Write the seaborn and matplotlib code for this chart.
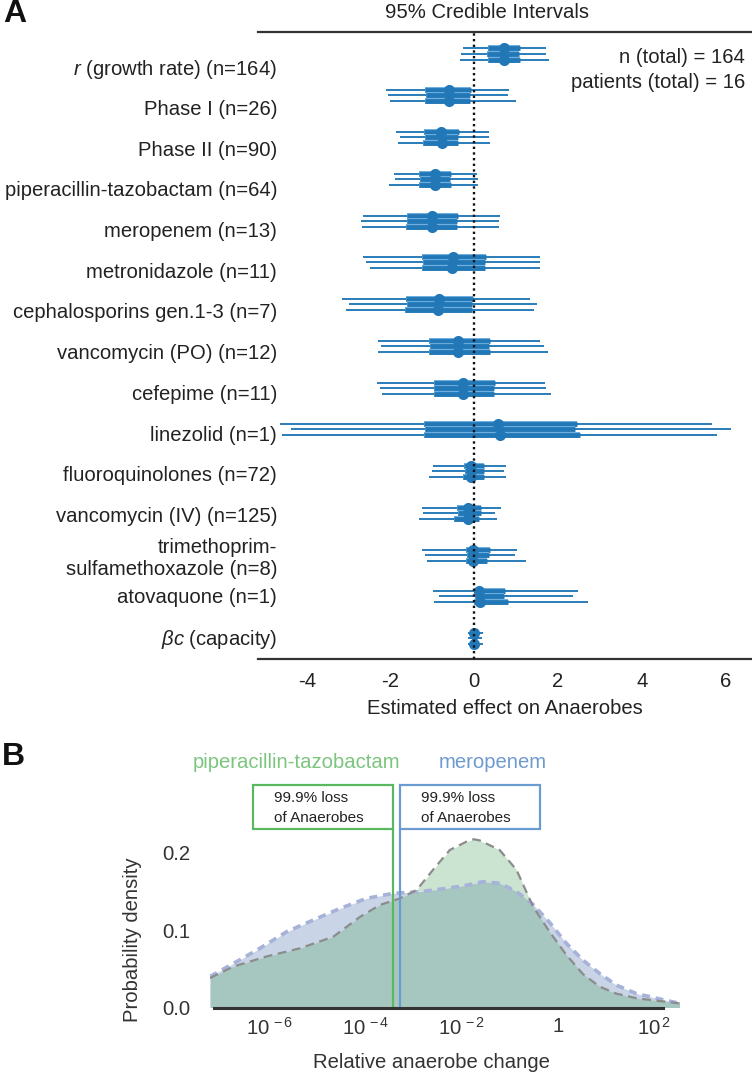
import numpy as np
import pandas as pd
import matplotlib
matplotlib.use('Agg')
import matplotlib.pyplot as plt
import matplotlib.patheffects as pe
from matplotlib.patches import Rectangle
import seaborn as sns

# ---------------- data: panel A ----------------
ylabels = [r'$\mathit{r}$ (growth rate) (n=164)', 'Phase I (n=26)', 'Phase II (n=90)',
           'piperacillin-tazobactam (n=64)', 'meropenem (n=13)', 'metronidazole (n=11)',
           'cephalosporins gen.1-3 (n=7)', 'vancomycin (PO) (n=12)', 'cefepime (n=11)',
           'linezolid (n=1)', 'fluoroquinolones (n=72)', 'vancomycin (IV) (n=125)',
           'trimethoprim-\nsulfamethoxazole (n=8)', 'atovaquone (n=1)', r'$\mathit{βc}$ (capacity)']
ci95_lo_top = [-0.28, -2.11, -1.87, -1.91, -2.65, -2.65, -3.15, -2.29, -2.32, -4.64, -0.98, -1.25, -1.25, -0.98, -0.16]
ci95_hi_top = [1.72, 0.84, 0.36, 0.06, 0.62, 1.56, 1.34, 1.58, 1.69, 5.68, 0.76, 0.63, 1.01, 2.48, 0.20]
ci95_lo_mid = [-0.32, -2.06, -1.77, -1.89, -2.70, -2.58, -2.98, -2.23, -2.24, -4.38, -1.01, -1.22, -1.18, -0.85, -0.14]
ci95_hi_mid = [1.72, 0.80, 0.34, 0.09, 0.58, 1.56, 1.50, 1.66, 1.72, 6.12, 0.71, 0.50, 0.98, 2.36, 0.18]
ci95_lo_bot = [-0.35, -2.00, -1.81, -2.03, -2.68, -2.48, -3.06, -2.29, -2.21, -4.60, -1.07, -1.32, -1.14, -0.95, -0.15]
ci95_hi_bot = [1.79, 1.00, 0.37, 0.10, 0.60, 1.56, 1.42, 1.76, 1.84, 5.80, 0.76, 0.54, 1.23, 2.71, 0.20]
ci50_lo_top = [0.32, -1.17, -1.20, -1.31, -1.61, -1.25, -1.63, -1.07, -0.97, -1.21, -0.24, -0.42, -0.19, 0.00, -0.06]
ci50_hi_top = [1.08, -0.08, -0.36, -0.56, -0.40, 0.28, -0.03, 0.37, 0.50, 2.44, 0.24, 0.17, 0.37, 0.74, 0.08]
ci50_lo_mid = [0.30, -1.15, -1.18, -1.29, -1.60, -1.22, -1.60, -1.05, -0.95, -1.18, -0.22, -0.40, -0.18, 0.02, -0.05]
ci50_hi_mid = [1.06, -0.10, -0.38, -0.58, -0.42, 0.25, -0.05, 0.35, 0.48, 2.40, 0.22, 0.15, 0.35, 0.70, 0.07]
ci50_lo_bot = [0.32, -1.17, -1.22, -1.31, -1.62, -1.25, -1.65, -1.08, -0.97, -1.21, -0.26, -0.48, -0.19, 0.00, -0.06]
ci50_hi_bot = [1.10, -0.10, -0.40, -0.56, -0.42, 0.26, -0.05, 0.37, 0.46, 2.52, 0.22, 0.12, 0.30, 0.80, 0.08]
median_top = [0.72, -0.61, -0.79, -0.93, -1.01, -0.50, -0.84, -0.38, -0.26, 0.57, -0.07, -0.15, -0.03, 0.11, 0.00]
median_bot = [0.72, -0.61, -0.77, -0.93, -1.01, -0.53, -0.87, -0.38, -0.26, 0.62, -0.07, -0.15, -0.03, 0.13, 0.00]
xticks_A = [-4, -2, 0, 2, 4, 6]

# ---------------- data: panel B ----------------
pip_log_x = [-7.25, -6.76, -6.07, -5.375, -4.68, -4.125, -3.71, -3.29, -2.94, -2.60, -2.25, -1.90, -1.75, -1.625,
             -1.21, -0.86, -0.51, -0.17, 0.18, 0.53, 0.875, 1.22, 1.64, 2.06, 2.54]
pip_density = [0.038, 0.053, 0.066, 0.0765, 0.0915, 0.117, 0.1325, 0.141, 0.152, 0.178, 0.2036, 0.2145, 0.2175, 0.2160,
               0.2036, 0.178, 0.130, 0.098, 0.068, 0.043, 0.027, 0.018, 0.012, 0.0088, 0.0054]
mero_log_x = [-7.25, -6.76, -6.21, -5.65, -5.10, -4.54, -3.99, -3.43, -2.875, -2.32, -1.90, -1.56, -1.21, -0.86,
              -0.51, -0.17, 0.18, 0.53, 0.875, 1.22, 1.64, 2.06, 2.54]
mero_density = [0.040, 0.057, 0.0765, 0.098, 0.113, 0.128, 0.141, 0.1476, 0.1497, 0.154, 0.158, 0.1627, 0.1606, 0.150,
                0.133, 0.110, 0.083, 0.061, 0.044, 0.029, 0.018, 0.012, 0.0054]
threshold_log = {'piperacillin-tazobactam': -3.43, 'meropenem': -3.28}
xticks_B_log = [-6, -4, -2, 0, 2]
xticklabels_B = [r'$10^{\,-6}$', r'$10^{\,-4}$', r'$10^{\,-2}$', '1', r'$10^{\,2}$']
yticks_B = [0.0, 0.1, 0.2]

# ---------------- style ----------------
sns.set_style('white')
plt.rcParams['font.family'] = ['Liberation Sans', 'DejaVu Sans']
plt.rcParams['mathtext.fontset'] = 'custom'
plt.rcParams['mathtext.rm'] = 'Liberation Sans'
plt.rcParams['mathtext.it'] = 'Liberation Sans:italic'
plt.rcParams['mathtext.bf'] = 'Liberation Sans:bold'
plt.rcParams['axes.unicode_minus'] = False

W, H = 752, 1072
fig = plt.figure(figsize=(W / 100, H / 100), dpi=100)
def fx(px): return px / W
def fy(py): return 1 - py / H

FS = 14.6
TXT = '#222222'
BLUE = '#2277b6'
EDGE = '#6aaee0'

# ---------------- panel A ----------------
axA = fig.add_axes([fx(258), fy(659), fx(752) - fx(258), fy(32) - fy(659)])
n = len(ylabels)
rows = np.arange(n)
off_top, off_mid, off_bot = -0.12, 0.0, 0.144

for lo, hi, off in [(ci95_lo_top, ci95_hi_top, off_top), (ci95_lo_mid, ci95_hi_mid, off_mid),
                    (ci95_lo_bot, ci95_hi_bot, off_bot)]:
    axA.hlines(rows + off, lo, hi, color=BLUE, lw=1.35, zorder=2)
for lo, hi, off in [(ci50_lo_top, ci50_hi_top, off_top), (ci50_lo_mid, ci50_hi_mid, off_mid),
                    (ci50_lo_bot, ci50_hi_bot, off_bot)]:
    lc = axA.hlines(rows + off, lo, hi, color=BLUE, lw=3.4, zorder=3)
    lc.set_path_effects([pe.Stroke(linewidth=4.3, foreground=EDGE), pe.Normal()])

dots = pd.DataFrame({
    'median': median_top + median_bot,
    'row': list(rows + off_top) + list(rows + off_bot),
})
sns.scatterplot(data=dots, x='median', y='row', ax=axA, color=BLUE, s=64, edgecolor=BLUE,
                linewidth=0, zorder=4, legend=False)

axA.axvline(0, color='#111111', lw=1.7, linestyle=(0, (1, 1.4)), zorder=5)

axA.set_xlim(-5.162, 6.628)
axA.set_ylim(14.5, -0.515)
axA.set_xticks(xticks_A)
axA.set_xticklabels([str(v) for v in xticks_A])
label_pos = 0.316 + 0.975 * rows
axA.set_yticks(label_pos)
axA.set_yticklabels(ylabels)
axA.tick_params(axis='y', length=0, pad=-13.7, labelsize=FS, labelcolor=TXT)
axA.tick_params(axis='x', length=4.5, width=1.3, color='#333333', direction='out',
                labelsize=FS, labelcolor=TXT, pad=5)
for s in ['left', 'right']:
    axA.spines[s].set_visible(False)
for s in ['top', 'bottom']:
    axA.spines[s].set_color('#333333')
    axA.spines[s].set_linewidth(1.6)
axA.set_ylabel('')
axA.set_xlabel('Estimated effect on Anaerobes', fontsize=FS, color=TXT)
axA.xaxis.set_label_coords(0.5, (659 - 709) / 627)
axA.xaxis.label.set_va('center')

fig.text(fx(487), fy(12), '95% Credible Intervals', ha='center', va='center', fontsize=FS, color=TXT)
fig.text(fx(745), fy(57), 'n (total) = 164', ha='right', va='center', fontsize=FS, color=TXT)
fig.text(fx(745), fy(82), 'patients (total) = 16', ha='right', va='center', fontsize=FS, color=TXT)
fig.text(fx(3), fy(14), 'A', ha='left', va='center', fontsize=23, fontweight='bold', color='#111111')

# ---------------- panel B ----------------
axB = fig.add_axes([fx(210), fy(1007.5), fx(682.4) - fx(210), fy(829) - fy(1007.5)])
pip_x = 10.0 ** np.array(pip_log_x)
mero_x = 10.0 ** np.array(mero_log_x)
axB.fill_between(mero_x, mero_density, color='#4c72b0', alpha=0.30, linewidth=0, zorder=1)
axB.fill_between(pip_x, pip_density, color='#55a868', alpha=0.30, linewidth=0, zorder=2)
sns.lineplot(x=mero_x, y=mero_density, ax=axB, color='#a7b2d9', lw=2.6, linestyle=(0, (2.2, 1.6)),
             zorder=3, sort=False)
sns.lineplot(x=pip_x, y=pip_density, ax=axB, color='#8c8c8c', lw=1.6, linestyle=(0, (4, 2.5)),
             zorder=4, sort=False)

axB.set_xscale('log')
axB.set_xlim(10 ** -7.25, 10 ** 2.6)
axB.set_ylim(0, (1007.5 - 829) / 773.5)

GREEN_L = '#5bb85f'
BLUE_L = '#6a9bd1'
line_cols = {'piperacillin-tazobactam': GREEN_L, 'meropenem': BLUE_L}
for name, lx in threshold_log.items():
    axB.axvline(10 ** lx, color=line_cols[name], lw=1.6, zorder=5)

axB.set_xticks([10.0 ** v for v in xticks_B_log])
axB.set_xticklabels(xticklabels_B)
axB.xaxis.set_minor_locator(matplotlib.ticker.NullLocator())
axB.set_yticks(yticks_B)
axB.set_yticklabels(['%.1f' % v for v in yticks_B])
axB.tick_params(axis='x', length=3, width=1.2, direction='in', color='#333333',
                labelsize=FS, labelcolor='#333333', pad=7)
axB.tick_params(axis='y', length=7.2, width=1.3, direction='out', color='#333333',
                labelsize=FS, labelcolor='#333333', pad=7)
for s in ['left', 'right', 'top']:
    axB.spines[s].set_visible(False)
axB.spines['bottom'].set_color('#333333')
axB.spines['bottom'].set_linewidth(2.2)
axB.spines['bottom'].set_bounds(10 ** -7.17, 10 ** 2.19)
axB.spines['bottom'].set_zorder(6)
axB.set_xlabel('Relative anaerobe change', fontsize=FS, color='#333333')
axB.xaxis.set_label_coords((431.7 - 210) / 472.4, (1007.5 - 1062) / 178.5)
axB.xaxis.label.set_va('center')
axB.set_ylabel('Probability density', fontsize=FS, color='#333333')
axB.yaxis.set_label_coords((133 - 210) / 472.4, (1007.5 - 940) / 178.5)
axB.yaxis.label.set_va('center')

# annotation boxes tied to threshold lines
fig.canvas.draw()
inv = fig.transFigure.inverted()
gx = axB.transData.transform((10 ** threshold_log['piperacillin-tazobactam'], 0.1))[0]
bx = axB.transData.transform((10 ** threshold_log['meropenem'], 0.1))[0]
box_w = 140
box_top, box_bot = fy(785), fy(829)
g0 = inv.transform((gx - box_w, 0))[0]; g1 = inv.transform((gx, 0))[0]
b0 = inv.transform((bx, 0))[0]; b1 = inv.transform((bx + box_w, 0))[0]
fig.add_artist(Rectangle((g0, box_bot), g1 - g0, box_top - box_bot, transform=fig.transFigure,
                         fill=False, edgecolor=GREEN_L, lw=1.6))
fig.add_artist(Rectangle((b0, box_bot), b1 - b0, box_top - box_bot, transform=fig.transFigure,
                         fill=False, edgecolor=BLUE_L, lw=1.6))
for x0 in [g0, b0]:
    fig.text(x0 + fx(21), fy(798), '99.9% loss', ha='left', va='center', fontsize=11, color=TXT)
    fig.text(x0 + fx(21), fy(818), 'of Anaerobes', ha='left', va='center', fontsize=11, color=TXT)

fig.text(fx(297), fy(763), 'piperacillin-tazobactam', ha='center', va='center', fontsize=FS, color='#7cc57e')
fig.text(fx(493), fy(763), 'meropenem', ha='center', va='center', fontsize=FS, color='#6f9ad0')
fig.text(fx(2), fy(757), 'B', ha='left', va='center', fontsize=23, fontweight='bold', color='#111111')

fig.savefig('out.png', dpi=100)
